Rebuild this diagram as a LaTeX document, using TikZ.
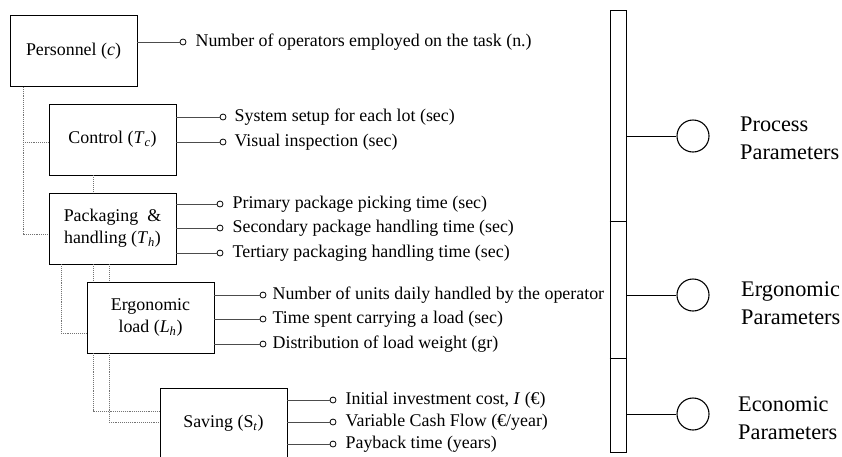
\documentclass[tikz,border=0pt]{standalone}
\usepackage{fontspec}
\setmainfont{Liberation Serif}
\usetikzlibrary{positioning}

\begin{document}
\begin{tikzpicture}[x=1pt, y=-1pt,
    factor/.style={rectangle, draw, line width=0.9pt, minimum width=127pt, minimum height=71pt, align=center, inner sep=2pt, font=\fontsize{17.9}{22}\selectfont},
    leaf/.style={circle, draw, line width=0.8pt, minimum size=6pt, inner sep=0pt},
    item/.style={anchor=west, inner sep=0pt, text height=12.5pt, text depth=3.5pt, font=\fontsize{17.9}{22}\selectfont},
    link/.style={draw=black!70, line width=1pt},
    tree/.style={densely dotted, draw=black!55, line width=0.9pt},
    group/.style={circle, draw, line width=1.1pt, minimum size=32pt, inner sep=0pt},
    group_text/.style={anchor=west, align=left, inner sep=0pt, font=\fontsize{22.3}{28}\selectfont}
]
\useasboundingbox (0,0) rectangle (842,456);

% --- FACTORS: the boxes ---
\node[factor] (personnel) at (73.5,51) {Personnel (\textit{c})};
\node[factor] (control) at (112.5,139.5) {Control (\textit{T}\textsubscript{\textit{c}})};
\node[factor] (packaging) at (112.5,228.5) {Packaging\ \ \&\\handling (\textit{T}\textsubscript{\textit{h}})};
\node[factor] (ergonomic) at (150.5,317.5) {Ergonomic\\load (\textit{L}\textsubscript{\textit{h}})};
\node[factor] (saving) at (223.5,423.5) {Saving (S\textsubscript{\textit{t}})};

% Tree (dotted)
\coordinate (trunk) at (23,0);
\coordinate (tc) at ([yshift=-2.5]control.west);
\draw[tree] (personnel.south -| trunk) |- ([yshift=-5.5]packaging.west);
\draw[tree] (trunk |- tc) -- (tc);
\draw[tree] ([xshift=-19.5]control.south) -- ([xshift=-19.5]packaging.north);
\draw[tree] ([xshift=-51.5]packaging.south) |- ([yshift=-15.5]ergonomic.west);
\draw[tree] ([xshift=-19.5]packaging.south) -- ([xshift=-57.5]ergonomic.north);
\draw[tree] ([xshift=-3.5]packaging.south) -- ([xshift=-41.5]ergonomic.north);
\draw[tree] ([xshift=-57.5]ergonomic.south) |- ([yshift=12.5]saving.west);
\draw[tree] ([xshift=-41.5]ergonomic.south) |- ([yshift=1.5]saving.west);

% --- PARAMETERS: the leaves ---
\node[leaf] (p1) at (183,42) {};
\node[item, right=9pt of p1] (pt1) {Number of operators employed on the task (n.)};
\draw[link] (personnel.east |- p1) -- (p1);

\foreach \y/\t [count=\i] in {117/{System setup for each lot (sec)}, 142/{Visual inspection (sec)}} {
    \node[leaf] (c\i) at (223,\y) {};
    \node[item, right=8pt of c\i] (ct\i) {\t};
    \draw[link] (control.east |- c\i) -- (c\i);
}

\foreach \y/\t [count=\i] in {204/{Primary package picking time (sec)}, 228/{Secondary package handling time (sec)}, 253/{Tertiary packaging handling time (sec)}} {
    \node[leaf] (h\i) at (220,\y) {};
    \node[item, right=9pt of h\i] (ht\i) {\t};
    \draw[link] (packaging.east |- h\i) -- (h\i);
}

\foreach \y/\t [count=\i] in {295/{Number of units daily handled by the operator}, 319/{Time spent carrying a load (sec)}, 344/{Distribution of load weight (gr)}} {
    \node[leaf] (e\i) at (263,\y) {};
    \node[item, right=6pt of e\i] (et\i) {\t};
    \draw[link] (ergonomic.east |- e\i) -- (e\i);
}

\foreach \y/\t [count=\i] in {400/{Initial investment cost, \textit{I} (€)}, 422/{Variable Cash Flow (€/year)}, 444/{Payback time (years)}} {
    \node[leaf] (s\i) at (333,\y) {};
    \node[item, right=9pt of s\i] (st\i) {\t};
    \draw[link] (saving.east |- s\i) -- (s\i);
}

% --- GROUPS: the bar on the right ---
\node[draw, line width=1pt, minimum width=16pt, minimum height=442pt, inner sep=0pt] (bar) at (618,231) {};
\foreach \y in {221,358} {
    \draw[line width=0.8pt] (bar.west |- 0,\y) -- (bar.east |- 0,\y);
}
\foreach \y/\x/\ly/\t [count=\i] in {136/740/138/{Process\\Parameters}, 295/741/303/{Ergonomic\\Parameters}, 414/738/418/{Economic\\Parameters}} {
    \node[group] (g\i) at (693,\y) {};
    \node[group_text] (gt\i) at (\x,\ly) {\t};
    \draw[line width=1pt] (bar.east |- g\i) -- (g\i);
}

\end{tikzpicture}
\end{document}
